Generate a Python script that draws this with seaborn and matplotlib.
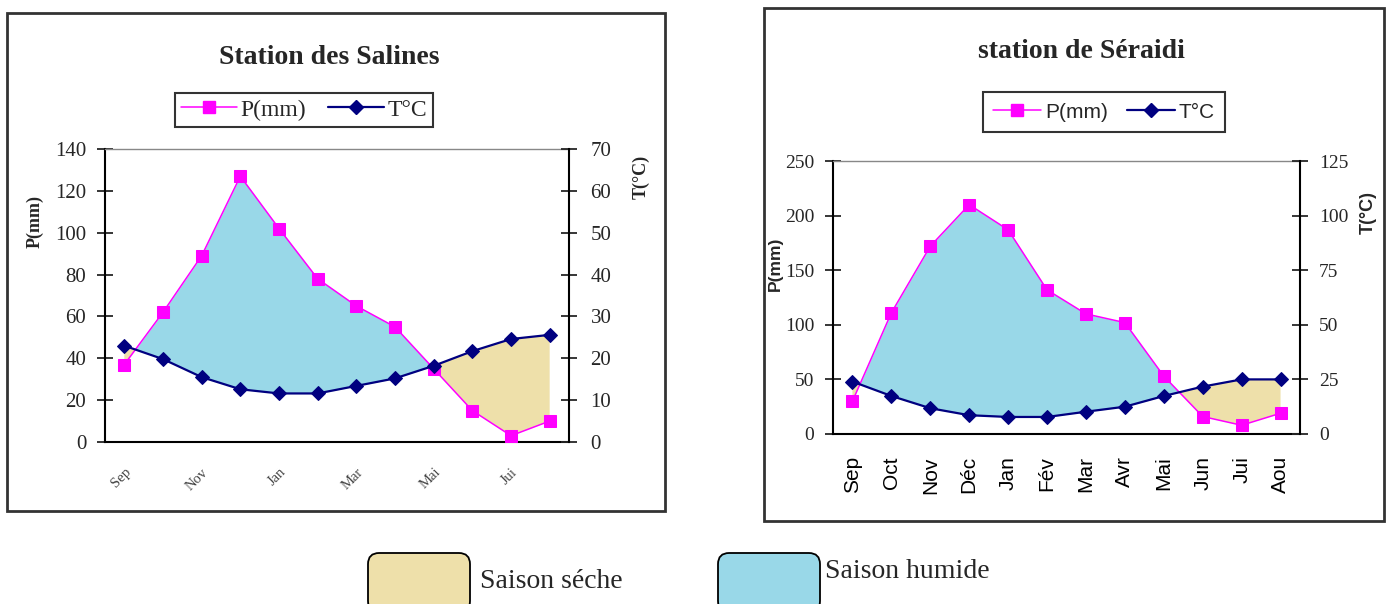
import numpy as np
import matplotlib
matplotlib.use("Agg")
import matplotlib.pyplot as plt
from matplotlib.lines import Line2D
from matplotlib.patches import Rectangle, FancyBboxPatch
import seaborn as sns

# Monthly climate data (hydrological year, Sep -> Aug)
months = ["Sep", "Oct", "Nov", "Déc", "Jan", "Fév", "Mar", "Avr", "Mai", "Jun", "Jui", "Aou"]
salines_labels = ["Sep", "Nov", "Jan", "Mar", "Mai", "Jui"]

salines_p = [37, 62, 89, 127, 102, 78, 65, 55, 35, 15, 3, 10]
salines_t = [23, 19.8, 15.5, 12.6, 11.6, 11.6, 13.4, 15.2, 18.2, 21.7, 24.6, 25.6]

seraidi_p = [30, 111, 172, 210, 187, 132, 110, 102, 53, 16, 8, 19]
seraidi_t = [24, 17.4, 11.8, 8.6, 7.8, 7.8, 10.2, 12.5, 17.4, 21.7, 25, 25]

sns.set_style("white")
plt.rcParams["font.family"] = ["Liberation Serif", "DejaVu Serif"]

W, H = 1391, 604
fig = plt.figure(figsize=(W / 100, H / 100), dpi=100)

P_COLOR = "#FF00FF"
T_COLOR = "#000080"
WET = "#99D8E8"
DRY = "#EEE0AA"
SANS = "Liberation Sans"


def fx(px):
    return px / W


def fy(py):
    return 1 - py / H


def chart(rect, p, t, pmax, pstep, tmax, tstep, xlabels, xlabel_pos, rot, xfs, xcolor,
          lpad, rpad, yfs):
    ax = fig.add_axes(rect)
    axr = ax.twinx()
    x = np.arange(len(p))
    p = np.asarray(p, float)
    t2 = 2 * np.asarray(t, float)

    # humid season where P > 2T, dry season where P < 2T
    ax.fill_between(x, p, t2, where=p >= t2, interpolate=True, color=WET, lw=0, zorder=1)
    ax.fill_between(x, p, t2, where=p <= t2, interpolate=True, color=DRY, lw=0, zorder=1)

    sns.lineplot(x=x, y=p, ax=ax, color=P_COLOR, lw=1.1, marker="s", markersize=9,
                 markeredgecolor=P_COLOR, zorder=3)
    sns.lineplot(x=x, y=t, ax=axr, color=T_COLOR, lw=1.6, marker="D", markersize=7,
                 markeredgecolor=T_COLOR, zorder=3)

    ax.set_xlim(-0.5, len(p) - 0.5)
    ax.set_ylim(0, pmax)
    axr.set_ylim(0, tmax)
    ax.set_yticks(np.arange(0, pmax + 1, pstep))
    axr.set_yticks(np.arange(0, tmax + 1, tstep))

    # category boundaries carry the tick marks, centres carry the labels
    ax.set_xticks(np.arange(-0.5, len(p), 1))
    ax.set_xticklabels([])
    ax.set_xticks(xlabel_pos, minor=True)
    if rot == 90:
        ax.set_xticklabels(xlabels, minor=True, rotation=90, fontsize=xfs, color=xcolor,
                           fontfamily=SANS, ha="center", va="top")
    else:
        ax.set_xticklabels(xlabels, minor=True, rotation=rot, fontsize=xfs, color=xcolor,
                           ha="right", va="top", rotation_mode="anchor")
    ax.tick_params(axis="x", which="minor", length=0, pad=16 if rot == 90 else 17)
    ax.tick_params(axis="x", which="major", direction="inout", length=9, width=1.3, color="black")
    ax.tick_params(axis="y", direction="inout", length=11, width=1.3, labelsize=yfs, pad=lpad)
    axr.tick_params(axis="y", direction="inout", length=11, width=1.3, labelsize=yfs, pad=rpad)

    for s in ["left", "bottom"]:
        ax.spines[s].set_color("black")
        ax.spines[s].set_linewidth(1.5)
    ax.spines["top"].set_color("#888888")
    ax.spines["top"].set_linewidth(1.0)
    ax.spines["right"].set_visible(False)
    for s in ["left", "bottom", "top"]:
        axr.spines[s].set_visible(False)
    axr.spines["right"].set_color("black")
    axr.spines["right"].set_linewidth(1.5)
    ax.set_ylabel("")
    axr.set_ylabel("")
    ax.grid(False)
    axr.grid(False)
    return ax, axr


def frame(x0, y0, x1, y1):
    fig.patches.append(Rectangle((fx(x0), fy(y1)), fx(x1) - fx(x0), fy(y0) - fy(y1),
                                 transform=fig.transFigure, fill=False,
                                 edgecolor="#333333", lw=2.0, zorder=0))


# Station des Salines
frame(7, 13, 665, 511)
ax1, ax1r = chart([fx(105), fy(442), fx(569) - fx(105), fy(149) - fy(442)],
                  salines_p, salines_t, 140, 20, 70, 10,
                  salines_labels, list(range(0, 12, 2)), 45, 10.5, "#444444", 8, 10, 15)
fig.text(fx(329), fy(57), "Station des Salines", ha="center", va="center",
         fontsize=20, fontweight="bold")
fig.text(fx(35), fy(222), "P(mm)", rotation=90, ha="center", va="center",
         fontsize=13, fontweight="bold")
fig.text(fx(641), fy(177), "T(°C)", rotation=90, ha="center", va="center",
         fontsize=13, fontweight="bold")

handles = [Line2D([], [], color=P_COLOR, lw=1.1, marker="s", markersize=9, label="P(mm)"),
           Line2D([], [], color=T_COLOR, lw=1.6, marker="D", markersize=7, label="T°C")]
leg1 = fig.legend(handles=handles, loc="center", bbox_to_anchor=(fx(304), fy(110)), ncol=2,
                  fontsize=17, frameon=True, fancybox=False, edgecolor="black",
                  handlelength=2.4, handletextpad=0.15, columnspacing=0.9,
                  borderpad=0.25)
leg1.get_frame().set_linewidth(1.5)

# station de Séraidi
frame(764, 8, 1384, 521)
ax2, ax2r = chart([fx(833), fy(434), fx(1300) - fx(833), fy(161) - fy(434)],
                  seraidi_p, seraidi_t, 250, 50, 125, 25,
                  months, list(range(12)), 90, 15, "black", 8, 8, 14)
fig.text(fx(1081), fy(51), "station de Séraidi", ha="center", va="center",
         fontsize=20, fontweight="bold")
fig.text(fx(775), fy(264), "P(mm)", rotation=90, ha="center", va="center",
         fontsize=12.5, fontweight="bold", family=SANS)
fig.text(fx(1368), fy(212), "T(°C)", rotation=90, ha="center", va="center",
         fontsize=13, fontweight="bold", family=SANS)
leg2 = fig.legend(handles=handles, loc="center", bbox_to_anchor=(fx(1104), fy(112)), ncol=2,
                  prop={"family": SANS, "size": 15}, frameon=True, fancybox=False,
                  edgecolor="black", handlelength=2.3, handletextpad=0.2,
                  columnspacing=0.9, borderpad=0.5)
leg2.get_frame().set_linewidth(1.5)

# Season key
for (x0, x1, y0, y1, col) in [(368, 470, 553, 612, DRY), (718, 820, 553, 612, WET)]:
    fig.patches.append(FancyBboxPatch((fx(x0), fy(y1)), fx(x1) - fx(x0), fy(y0) - fy(y1),
                                      boxstyle="round,pad=0,rounding_size=0.008",
                                      transform=fig.transFigure, facecolor=col,
                                      edgecolor="black", lw=1.3, mutation_aspect=W / H))
fig.text(fx(480), fy(582), "Saison séche", ha="left", va="center", fontsize=20)
fig.text(fx(825), fy(572), "Saison humide", ha="left", va="center", fontsize=20)

fig.savefig("out.png", dpi=100)
